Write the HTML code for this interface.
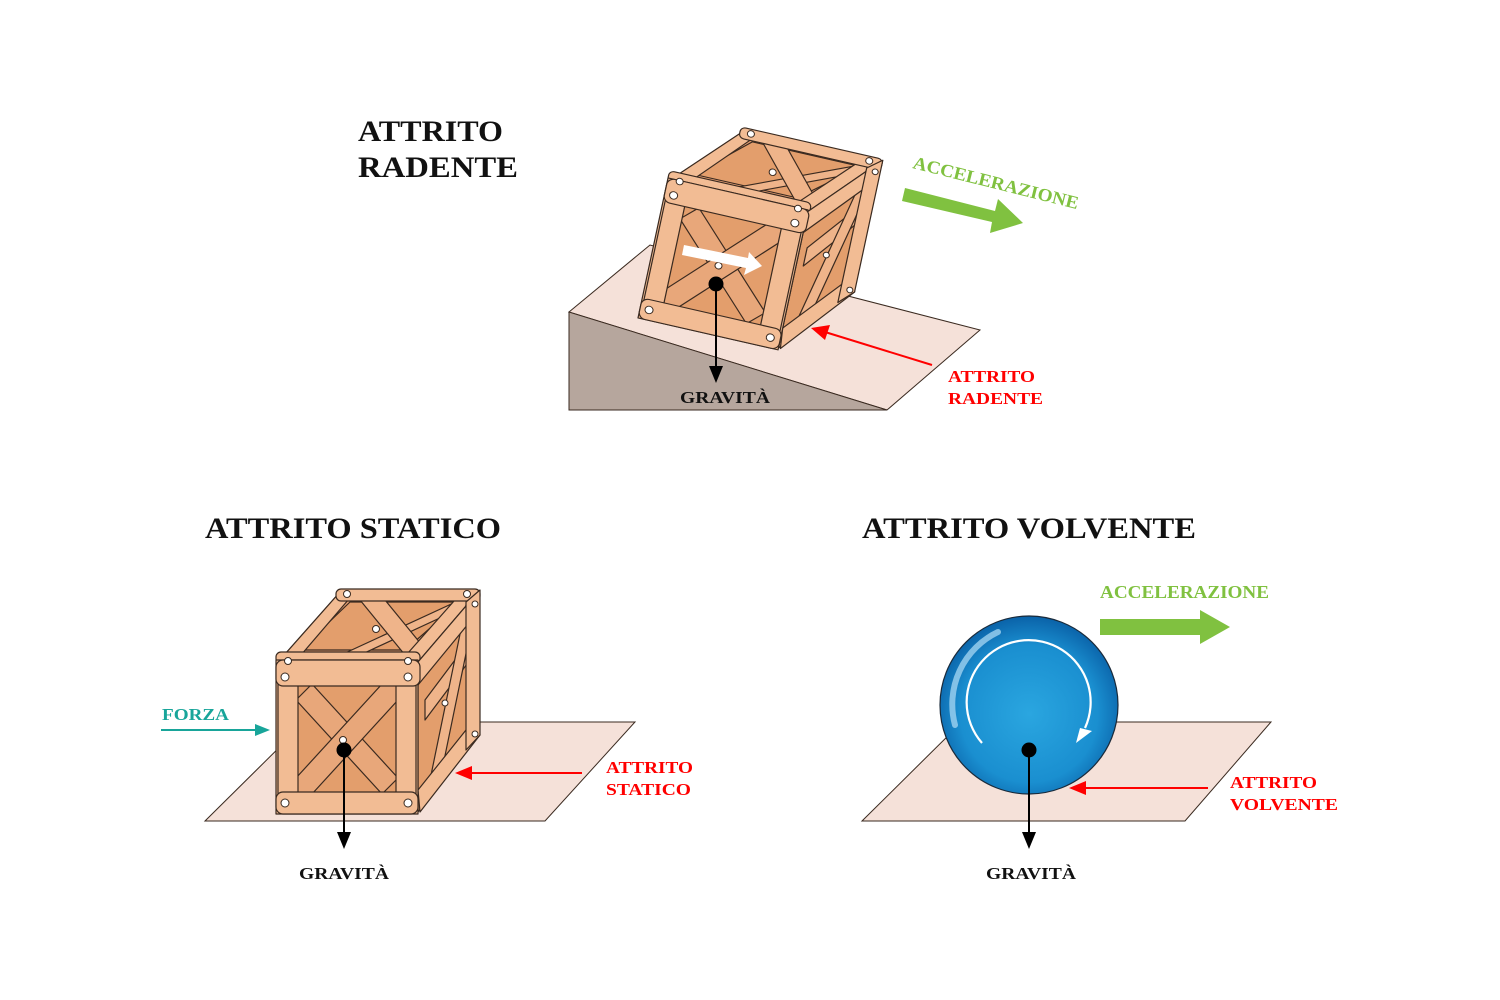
<!DOCTYPE html>
<html><head><meta charset="utf-8"><style>
html,body{margin:0;padding:0;background:#fff}
svg{display:block}
text{font-family:"Liberation Serif",serif;font-weight:bold}
</style></head><body>
<svg width="1500" height="1000" viewBox="0 0 1500 1000" xmlns="http://www.w3.org/2000/svg">
<defs>
<radialGradient id="bg" cx="0.5" cy="0.55" r="0.55">
<stop offset="0" stop-color="#2aa6e0"/><stop offset="0.7" stop-color="#1a8fd0"/><stop offset="1" stop-color="#0a62a8"/>
</radialGradient>
<g id="crate" stroke="#3a2a20" stroke-width="1.2" stroke-linejoin="round">
  <!-- top face -->
  <polygon points="278,662 340,592 478,592 418,662" fill="#e7a174"/>
  <polygon points="300,650 350,602 460,602 405,650" fill="#e39e6c"/>
  <polygon points="330,660 460,600 470,604 345,662" fill="#efb48a"/>
  <polygon points="360,600 385,600 430,655 405,655" fill="#efb48a"/>
  <polygon points="278,662 340,592 355,592 295,662" fill="#f2bc94"/>
  <polygon points="400,662 462,592 478,592 418,662" fill="#f2bc94"/>
  <rect x="336" y="589" width="144" height="12" rx="5" fill="#f2bc94"/>
  <rect x="276" y="652" width="144" height="12" rx="5" fill="#f2bc94"/>
  <!-- right face -->
  <polygon points="418,662 478,592 478,735 418,812" fill="#e39e6c"/>
  <polygon points="425,700 470,640 470,660 425,720" fill="#efb48a"/>
  <polygon points="430,780 466,605 476,605 440,780" fill="#efb48a"/>
  <polygon points="418,662 478,592 478,612 418,685" fill="#f2bc94"/>
  <polygon points="418,790 478,715 480,735 420,812" fill="#f2bc94"/>
  <polygon points="466,602 480,590 480,735 466,750" fill="#f2bc94"/>
  <!-- front face -->
  <rect x="276" y="660" width="142" height="154" fill="#f2bc94"/>
  <rect x="296" y="684" width="102" height="110" fill="#e39e6c"/>
  <polygon points="296,700 312,684 398,778 382,794" fill="#e8a77a"/>
  <polygon points="296,778 382,684 398,684 398,700 312,794 296,794" fill="#e8a77a"/>
  <rect x="278" y="684" width="20" height="110" fill="#f2bc94"/>
  <rect x="396" y="684" width="20" height="110" fill="#f2bc94"/>
  <rect x="276" y="660" width="144" height="26" rx="7" fill="#f2bc94"/>
  <rect x="276" y="792" width="142" height="22" rx="7" fill="#f2bc94"/>
  <g fill="#fff" stroke="#3a2a20" stroke-width="1">
  <circle cx="285" cy="677" r="4"/><circle cx="408" cy="677" r="4"/>
  <circle cx="285" cy="803" r="4"/><circle cx="408" cy="803" r="4"/>
  <circle cx="288" cy="661" r="3.5"/><circle cx="408" cy="661" r="3.5"/>
  <circle cx="347" cy="594" r="3.5"/><circle cx="467" cy="594" r="3.5"/>
  <circle cx="376" cy="629" r="3.5"/><circle cx="475" cy="604" r="3"/>
  <circle cx="445" cy="703" r="3"/><circle cx="475" cy="734" r="3"/>
  <circle cx="343" cy="740" r="3.5"/>
  </g>
</g>
</defs>

<!-- Ramp -->
<polygon points="569,312 650,245 980,330 887,410" fill="#f5e1d9" stroke="#3a2a20" stroke-width="1"/>
<polygon points="569,312 569,410 887,410" fill="#b6a69d" stroke="#3a2a20" stroke-width="1"/>
<use href="#crate" transform="matrix(0.986,0.225,-0.195,0.909,524.6,-484.1)"/>
<polygon points="684,245 748,258 749,252 762,266 744,275 746,268 682,255" fill="#fff"/>
<line x1="716" y1="284" x2="716" y2="370" stroke="#000" stroke-width="2"/>
<polygon points="709,366 723,366 716,383" fill="#000"/>
<circle cx="716" cy="284" r="7.5" fill="#000"/>
<text x="680" y="403" font-size="17" fill="#111" textLength="90" lengthAdjust="spacingAndGlyphs">GRAVITÀ</text>
<line x1="932" y1="365" x2="825" y2="332" stroke="#f00" stroke-width="2"/>
<polygon points="811,328 830,325 825,340" fill="#f00"/>
<text x="948" y="382" font-size="17" fill="#f00" textLength="87" lengthAdjust="spacingAndGlyphs">ATTRITO</text>
<text x="948" y="404" font-size="17" fill="#f00" textLength="95" lengthAdjust="spacingAndGlyphs">RADENTE</text>
<polygon points="905,188 995,211 998,199 1023,223 990,233 992,222 902,201" fill="#80c140"/>
<text x="912" y="168" font-size="18" fill="#80c140" transform="rotate(14 912 168)" textLength="170" lengthAdjust="spacingAndGlyphs">ACCELERAZIONE</text>

<text x="358" y="141" font-size="30" fill="#111" textLength="145" lengthAdjust="spacingAndGlyphs">ATTRITO</text>
<text x="358" y="177" font-size="30" fill="#111" textLength="160" lengthAdjust="spacingAndGlyphs">RADENTE</text>

<!-- Static -->
<text x="205" y="538" font-size="30" fill="#111" textLength="296" lengthAdjust="spacingAndGlyphs">ATTRITO STATICO</text>
<polygon points="205,821 305,722 635,722 545,821" fill="#f5e1d9" stroke="#3a2a20" stroke-width="1"/>
<use href="#crate"/>
<line x1="344" y1="750" x2="344" y2="836" stroke="#000" stroke-width="2"/>
<polygon points="337,832 351,832 344,849" fill="#000"/>
<circle cx="344" cy="750" r="7.5" fill="#000"/>
<text x="299" y="879" font-size="17" fill="#111" textLength="90" lengthAdjust="spacingAndGlyphs">GRAVITÀ</text>
<line x1="161" y1="730" x2="258" y2="730" stroke="#18a59a" stroke-width="2"/>
<polygon points="255,724 270,730 255,736" fill="#18a59a"/>
<text x="162" y="720" font-size="17" fill="#18a59a" textLength="67" lengthAdjust="spacingAndGlyphs">FORZA</text>
<line x1="582" y1="773" x2="468" y2="773" stroke="#f00" stroke-width="2"/>
<polygon points="455,773 472,766 472,780" fill="#f00"/>
<text x="606" y="773" font-size="17" fill="#f00" textLength="87" lengthAdjust="spacingAndGlyphs">ATTRITO</text>
<text x="606" y="795" font-size="17" fill="#f00" textLength="85" lengthAdjust="spacingAndGlyphs">STATICO</text>

<!-- Volvente -->
<text x="862" y="538" font-size="30" fill="#111" textLength="334" lengthAdjust="spacingAndGlyphs">ATTRITO VOLVENTE</text>
<polygon points="862,821 962,722 1271,722 1185,821" fill="#f5e1d9" stroke="#3a2a20" stroke-width="1"/>
<circle cx="1029" cy="705" r="89" fill="url(#bg)" stroke="#1a2a3a" stroke-width="1.2"/>
<path d="M955,725 A80,80 0 0 1 998,632" stroke="#9fd2f0" stroke-width="6" fill="none" stroke-linecap="round" opacity="0.8"/>
<path d="M982,743 A62,62 0 1 1 1085,728" stroke="#fff" stroke-width="2.2" fill="none"/>
<polygon points="1076,743 1080,728 1092,731" fill="#fff"/>
<line x1="1029" y1="750" x2="1029" y2="836" stroke="#000" stroke-width="2"/>
<polygon points="1022,832 1036,832 1029,849" fill="#000"/>
<circle cx="1029" cy="750" r="7.5" fill="#000"/>
<text x="986" y="879" font-size="17" fill="#111" textLength="90" lengthAdjust="spacingAndGlyphs">GRAVITÀ</text>
<line x1="1208" y1="788" x2="1082" y2="788" stroke="#f00" stroke-width="2"/>
<polygon points="1069,788 1086,781 1086,795" fill="#f00"/>
<text x="1230" y="788" font-size="17" fill="#f00" textLength="87" lengthAdjust="spacingAndGlyphs">ATTRITO</text>
<text x="1230" y="810" font-size="17" fill="#f00" textLength="108" lengthAdjust="spacingAndGlyphs">VOLVENTE</text>
<polygon points="1100,619 1200,619 1200,610 1230,627 1200,644 1200,635 1100,635" fill="#80c140"/>
<text x="1100" y="598" font-size="18" fill="#80c140" textLength="169" lengthAdjust="spacingAndGlyphs">ACCELERAZIONE</text>
</svg>
</body></html>
